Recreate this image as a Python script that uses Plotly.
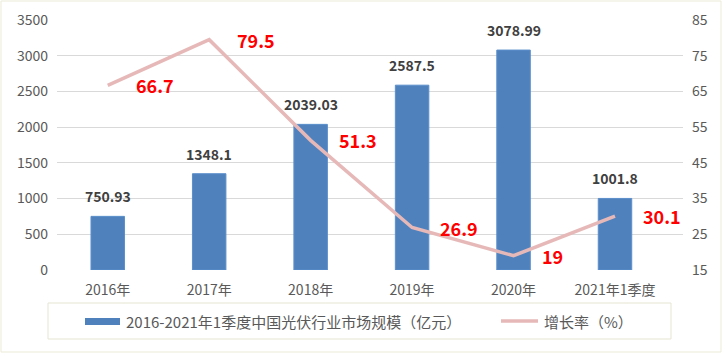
import plotly.graph_objects as go

categories = ["2016年", "2017年", "2018年", "2019年", "2020年", "2021年1季度"]
market_size = [750.93, 1348.1, 2039.03, 2587.5, 3078.99, 1001.8]
market_labels = ["750.93", "1348.1", "2039.03", "2587.5", "3078.99", "1001.8"]
growth_rate = [66.7, 79.5, 51.3, 26.9, 19, 30.1]
growth_labels = ["66.7", "79.5", "51.3", "26.9", "19", "30.1"]
left_ticks = [0, 500, 1000, 1500, 2000, 2500, 3000, 3500]
right_ticks = [15, 25, 35, 45, 55, 65, 75, 85]
bar_name = "2016-2021年1季度中国光伏行业市场规模（亿元）"
line_name = "增长率（%）"

FONT = "Noto Sans CJK SC"
GRAY = "#595959"
BAR_COLOR = "#4F81BD"
LINE_COLOR = "#E6B9B8"

# plot area in pixels: x 57..683, y 20..270
L, R, T, B = 57, 683, 20, 270
W, H = R - L, B - T


def px(x):
    return (x - L) / W


def py(y):
    return (B - y) / H


fig = go.Figure()
fig.add_trace(go.Bar(
    x=categories, y=market_size, name=bar_name,
    marker=dict(color=BAR_COLOR, line=dict(color="#5B8FCB", width=1)),
    width=0.33, showlegend=False, hoverinfo="skip",
))
fig.add_trace(go.Scatter(
    x=categories, y=growth_rate, name=line_name, yaxis="y2",
    mode="lines", line=dict(color=LINE_COLOR, width=3.5), showlegend=False,
    hoverinfo="skip",
))

annotations = []
for c, v, t in zip(categories, market_size, market_labels):
    annotations.append(dict(x=c, y=v, xref="x", yref="y", text=t, showarrow=False,
                            yanchor="middle", yshift=20,
                            font=dict(family=FONT, size=14, color="#404040", weight="bold")))
for c, v, t in zip(categories, growth_rate, growth_labels):
    annotations.append(dict(x=c, y=v, xref="x", yref="y2", text=t, showarrow=False,
                            xanchor="left", yanchor="middle", xshift=26,
                            font=dict(family=FONT, size=18, color="#FF0000", weight="bold")))
# manual legend texts
annotations.append(dict(x=px(124), y=py(321), xref="paper", yref="paper", text=bar_name,
                        showarrow=False, xanchor="left", yanchor="middle",
                        font=dict(family=FONT, size=15, color=GRAY)))
annotations.append(dict(x=px(542), y=py(321), xref="paper", yref="paper", text=line_name,
                        showarrow=False, xanchor="left", yanchor="middle",
                        font=dict(family=FONT, size=15, color=GRAY)))

shapes = [
    # legend box
    dict(type="rect", xref="paper", yref="paper", x0=px(48), x1=px(671),
         y0=py(339), y1=py(303), line=dict(color="#E6E5D3", width=1)),
    # outer chart border
    dict(type="rect", xref="paper", yref="paper", x0=px(1), x1=px(721),
         y0=py(352), y1=py(1), line=dict(color="#ECEBD9", width=1)),
    # legend bar symbol
    dict(type="rect", xref="paper", yref="paper", x0=px(85), x1=px(120),
         y0=py(325), y1=py(318), fillcolor=BAR_COLOR, line=dict(width=0)),
    # legend line symbol
    dict(type="line", xref="paper", yref="paper", x0=px(501), x1=px(538),
         y0=py(321), y1=py(321), line=dict(color=LINE_COLOR, width=3.5)),
]

fig.update_layout(
    width=726, height=356,
    margin=dict(l=L, r=726 - R, t=T, b=356 - B, autoexpand=False),
    paper_bgcolor="white", plot_bgcolor="white",
    font=dict(family=FONT, size=14, color=GRAY),
    bargap=0.67,
    showlegend=False,
    hovermode=False,
    xaxis=dict(showgrid=False, showline=False, ticks="", automargin=False,
               tickfont=dict(size=14, color=GRAY), ticklabelstandoff=10),
    yaxis=dict(range=[0, 3500], tickvals=left_ticks, showgrid=True, gridcolor="#D9D9D9",
               gridwidth=1, zeroline=False, showline=False, ticks="", automargin=False,
               tickfont=dict(size=14, color=GRAY), ticklabelstandoff=8),
    yaxis2=dict(range=[15, 85], tickvals=right_ticks, overlaying="y", side="right",
                showgrid=False, zeroline=False, showline=False, ticks="", automargin=False,
                tickfont=dict(size=14, color=GRAY), ticklabelstandoff=8),
    annotations=annotations,
    shapes=shapes,
)

fig.write_html("out.html", config={"displayModeBar": False})

# remove the browser's default page margin so the figure sits at the window origin
with open("out.html", encoding="utf-8") as f:
    html = f.read()
html = html.replace("<head>", "<head><style>html,body{margin:0;padding:0;overflow:hidden;}</style>", 1)
with open("out.html", "w", encoding="utf-8") as f:
    f.write(html)
